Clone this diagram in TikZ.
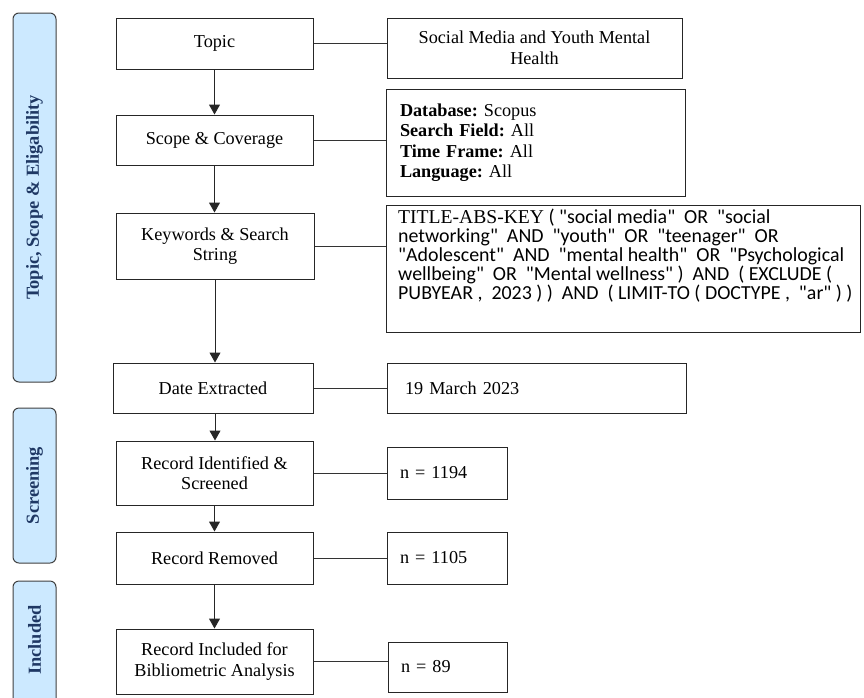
\documentclass[tikz,border=0pt]{standalone}
\usepackage{fontspec}
\setmainfont{Liberation Serif}
\newfontfamily\calibri{Carlito}
\usetikzlibrary{arrows.meta}
\definecolor{barfill}{HTML}{CCE9FF}
\definecolor{bartext}{HTML}{1F3864}
\definecolor{barline}{HTML}{404040}
\frenchspacing
\begin{document}
\begin{tikzpicture}[x=1pt,y=-1pt,
  box/.style={draw=black!85,line width=1pt,rectangle,inner sep=0pt,align=center,
    font=\fontsize{18.2}{20.5}\selectfont},
  leftbox/.style={draw=black!85,line width=1pt,rectangle,inner sep=0pt,
    font=\fontsize{18.2}{20.5}\selectfont},
  bar/.style={draw=barline,fill=barfill,line width=1pt,rounded corners=6pt,rectangle,inner sep=0pt,minimum width=43pt},
  bartxt/.style={rotate=90,text=bartext,font=\fontsize{18.4}{21}\selectfont\bfseries},
  arr/.style={-{Triangle[width=11pt,length=10pt]},line width=1pt,draw=black!85},
  conn/.style={line width=1pt,draw=black!80}]
\useasboundingbox (0,0) rectangle (864,697);
\clip (0,0) rectangle (864,697);
% side bars
\node[bar,minimum height=369pt] (b1) at (34.5,197.5) {};
\node[bartxt] (b1t) at (b1) {Topic, Scope \& Eligability};
\node[bar,minimum height=155pt] (b2) at (34.5,485.5) {};
\node[bartxt] (b2t) at (b2) {Screening};
\node[bar,minimum height=160pt] (b3) at (34.5,661) {};
\node[bartxt] (b3t) at (34.5,640) {Included};
% main column
\node[box,minimum width=197pt,minimum height=51pt] (topic) at (214.5,43.5) {Topic};
\node[box,minimum width=197pt,minimum height=50pt] (scope) at (214.5,140) {Scope \& Coverage};
\node[box,minimum width=198pt,minimum height=66pt] (kw) at (215,246) {Keywords \& Search\\String};
\node[box,minimum width=200pt,minimum height=50pt] (date) at (213,388) {Date Extracted};
\node[box,minimum width=197pt,minimum height=64pt] (rid) at (214.5,473) {Record Identified \&\\Screened};
\node[box,minimum width=197pt,minimum height=52pt] (rem) at (214.5,558) {Record Removed};
\node[box,minimum width=197pt,minimum height=65pt] (inc) at (214.5,661.5) {Record Included for\\Bibliometric Analysis};
% right column
\node[box,minimum width=295pt,minimum height=60pt] (topicR) at (534.5,48) {Social Media and Youth Mental\\Health};
\node[leftbox,minimum width=299pt,minimum height=107pt,align=left,text width=271pt] (scopeR) at (535.5,142.5)
  {\textbf{Database:} Scopus\\\textbf{Search Field:} All\\\textbf{Time Frame:} All\\\textbf{Language:} All};
\node[leftbox,minimum width=474pt,minimum height=127pt] (query) at (623,268.5) {};
\node[anchor=north west,inner sep=0pt,align=left,font=\calibri\fontsize{19.9}{19}\selectfont] (queryt) at (398,209)
  {{\rmfamily\fontsize{19.6}{19}\selectfont TITLE-ABS-KEY} ( "social media"\ \ OR\ \ "social\\
   networking"\ \ AND\ \ "youth"\ \ OR\ \ "teenager"\ \ OR\\
   "Adolescent"\ \ AND\ \ "mental health"\ \ OR\ \ "Psychological\\
   wellbeing"\ \ OR\ \ "Mental wellness" )\ \ AND\ \ ( EXCLUDE (\\
   PUBYEAR ,\ \ 2023 ) )\ \ AND\ \ ( LIMIT-TO ( DOCTYPE ,\ \ "ar" ) )};
\node[leftbox,minimum width=299pt,minimum height=50pt,align=left,text width=263pt] (dateR) at (536.5,388) {19 March 2023};
\node[leftbox,minimum width=120pt,minimum height=52pt,align=left,text width=94pt] (ridR) at (447,473) {n = 1194};
\node[leftbox,minimum width=120pt,minimum height=52pt,align=left,text width=94pt] (remR) at (447,558) {n = 1105};
\node[leftbox,minimum width=119pt,minimum height=50pt,align=left,text width=93pt] (incR) at (447.5,667) {n = 89};
% arrows
\draw[arr] (topic.south) -- (topic.south |- scope.north);
\draw[arr] (scope.south) -- (scope.south |- kw.north);
\draw[arr] (kw.south) -- (kw.south |- date.north);
\draw[arr] (date.south -| kw.south) -- (kw.south |- rid.north);
\draw[arr] (rid.south) -- (rid.south |- rem.north);
\draw[arr] (rem.south) -- (rem.south |- inc.north);
% connectors
\draw[conn] (topic.east) -- (topic.east -| topicR.west);
\draw[conn] (scope.east) -- (scope.east -| scopeR.west);
\draw[conn] (kw.east) -- (kw.east -| query.west);
\draw[conn] (date.east) -- (date.east -| dateR.west);
\draw[conn] (rid.east) -- (rid.east -| ridR.west);
\draw[conn] (rem.east) -- (rem.east -| remR.west);
\draw[conn] (inc.east) -- (inc.east -| incR.west);
\end{tikzpicture}
\end{document}
